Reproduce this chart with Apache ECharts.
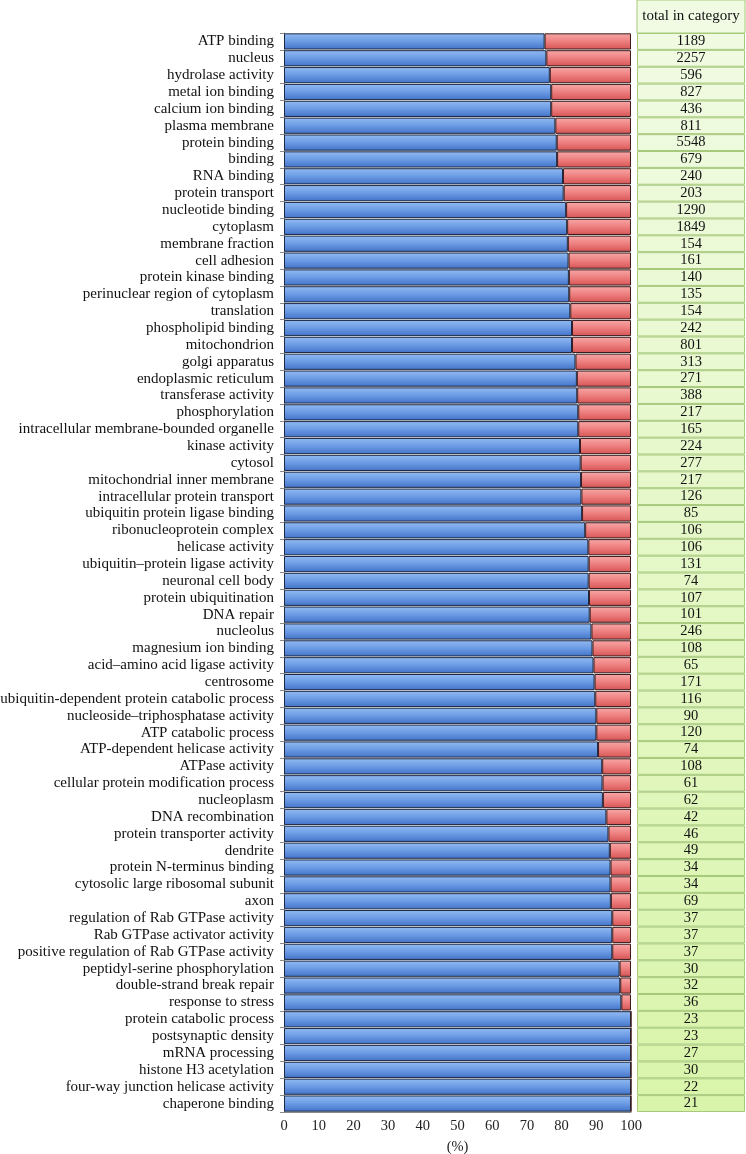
<!DOCTYPE html>
<html>
<head>
<meta charset="utf-8">
<script src="https://cdn.jsdelivr.net/npm/echarts@6/dist/echarts.min.js"></script>
<style>
html,body{margin:0;padding:0;background:#fff;}
#chart{width:746px;height:1154px;}
</style>
</head>
<body>
<div id="chart"></div>
<script>
const categories = [
"ATP binding","nucleus","hydrolase activity","metal ion binding","calcium ion binding",
"plasma membrane","protein binding","binding","RNA binding","protein transport",
"nucleotide binding","cytoplasm","membrane fraction","cell adhesion","protein kinase binding",
"perinuclear region of cytoplasm","translation","phospholipid binding","mitochondrion","golgi apparatus",
"endoplasmic reticulum","transferase activity","phosphorylation","intracellular membrane-bounded organelle","kinase activity",
"cytosol","mitochondrial inner membrane","intracellular protein transport","ubiquitin protein ligase binding","ribonucleoprotein complex",
"helicase activity","ubiquitin–protein ligase activity","neuronal cell body","protein ubiquitination","DNA repair",
"nucleolus","magnesium ion binding","acid–amino acid ligase activity","centrosome","ubiquitin-dependent protein catabolic process",
"nucleoside–triphosphatase activity","ATP catabolic process","ATP-dependent helicase activity","ATPase activity","cellular protein modification process",
"nucleoplasm","DNA recombination","protein transporter activity","dendrite","protein N-terminus binding",
"cytosolic large ribosomal subunit","axon","regulation of Rab GTPase activity","Rab GTPase activator activity","positive regulation of Rab GTPase activity",
"peptidyl-serine phosphorylation","double-strand break repair","response to stress","protein catabolic process","postsynaptic density",
"mRNA processing","histone H3 acetylation","four-way junction helicase activity","chaperone binding"
];
const blueShare = [
75.1,75.6,76.6,77.0,77.0,78.2,78.6,78.7,80.4,80.6,
81.3,81.6,81.8,82.0,82.1,82.2,82.5,83.0,83.0,84.0,
84.4,84.5,84.8,84.8,85.3,85.5,85.6,85.7,85.9,86.8,
87.7,87.8,87.8,87.9,88.1,88.6,88.9,89.2,89.5,89.7,
90.0,90.0,90.5,91.7,91.8,91.9,92.9,93.5,93.9,94.1,
94.1,94.2,94.6,94.6,94.6,96.7,96.9,97.2,100,100,
100,100,100,100
];
const redShare = [
24.9,24.4,23.4,23.0,23.0,21.8,21.4,21.3,19.6,19.4,
18.7,18.4,18.2,18.0,17.9,17.8,17.5,17.0,17.0,16.0,
15.6,15.5,15.2,15.2,14.7,14.5,14.4,14.3,14.1,13.2,
12.3,12.2,12.2,12.1,11.9,11.4,11.1,10.8,10.5,10.3,
10.0,10.0,9.5,8.3,8.2,8.1,7.1,6.5,6.1,5.9,
5.9,5.8,5.4,5.4,5.4,3.3,3.1,2.8,0,0,
0,0,0,0
];
const totals = [
1189,2257,596,827,436,811,5548,679,240,203,
1290,1849,154,161,140,135,154,242,801,313,
271,388,217,165,224,277,217,126,85,106,
106,131,74,107,101,246,108,65,171,116,
90,120,74,108,61,62,42,46,49,34,
34,69,37,37,37,30,32,36,23,23,
27,30,22,21
];
const xTicks = [0,10,20,30,40,50,60,70,80,90,100];
const tableHeader = "total in category";
const xName = "(%)";

const serif = "'Liberation Serif','DejaVu Serif',serif";
const chart = echarts.init(document.getElementById('chart'), null, {renderer:'canvas'});

const blueGrad = new echarts.graphic.LinearGradient(0,0,0,1,[
  {offset:0,color:'#93bbf2'},{offset:0.5,color:'#6b9be4'},{offset:1,color:'#4272c6'}]);
const redGrad = new echarts.graphic.LinearGradient(0,0,0,1,[
  {offset:0,color:'#f7a8a8'},{offset:0.5,color:'#ee7f7f'},{offset:1,color:'#d65454'}]);
const greenGrad = {type:'linear',x:0,y:0,x2:0,y2:1154,global:true,colorStops:[
  {offset:0,color:'#f1fbe4'},{offset:1,color:'#d8f4a8'}]};

const gridTop = 33, gridBottom = 42;

chart.setOption({
  animation:false,
  grid:[
    {left:284,right:115,top:gridTop,bottom:gridBottom,outerBoundsMode:'none',containLabel:false},
    {left:637,right:1,top:gridTop,bottom:gridBottom,outerBoundsMode:'none',containLabel:false}
  ],
  xAxis:[
    {gridIndex:0,type:'value',min:0,max:100,interval:10,
     axisLine:{show:true,lineStyle:{color:'#8a8a8a'}},
     axisTick:{show:false},splitLine:{show:false},
     axisLabel:{color:'#222',fontFamily:serif,fontSize:14.5,margin:7,
       formatter:v=>xTicks.includes(v)?String(v):''},
     name:xName,nameLocation:'middle',nameGap:28,
     nameTextStyle:{color:'#222',fontFamily:serif,fontSize:14.5}},
    {gridIndex:1,type:'value',min:0,max:1,show:false}
  ],
  yAxis:[
    {gridIndex:0,type:'category',data:categories,inverse:true,
     axisLine:{show:true,lineStyle:{color:'#8a8a8a'}},
     axisTick:{show:true,length:4,lineStyle:{color:'#8a8a8a'}},
     axisLabel:{color:'#111',fontFamily:serif,fontSize:15,margin:10,interval:0}},
    {gridIndex:1,type:'category',data:categories,inverse:true,show:false}
  ],
  series:[
    {type:'bar',xAxisIndex:0,yAxisIndex:0,stack:'s',data:blueShare,barCategoryGap:'4%',
     itemStyle:{color:blueGrad,borderColor:'#1d2a45',borderWidth:1}},
    {type:'bar',xAxisIndex:0,yAxisIndex:0,stack:'s',data:redShare,barCategoryGap:'4%',
     itemStyle:{color:redGrad,borderColor:'#3a1c1c',borderWidth:1}},
    {type:'bar',xAxisIndex:1,yAxisIndex:1,data:totals.map(()=>1),barCategoryGap:'0%',
     itemStyle:{color:greenGrad,borderColor:'#a6c97a',borderWidth:1},
     label:{show:true,position:'inside',color:'#111',fontFamily:serif,fontSize:14.5,
       formatter:p=>String(totals[p.dataIndex])}}
  ],
  graphic:[
    {type:'rect',shape:{x:637,y:0,width:108,height:gridTop},
     style:{fill:'#f1fbe4',stroke:'#a6c97a',lineWidth:1}},
    {type:'text',x:691,y:16,style:{text:tableHeader,font:"15px 'Liberation Serif'",fill:'#111',
      align:'center',verticalAlign:'middle'}}
  ]
});
</script>
</body>
</html>
